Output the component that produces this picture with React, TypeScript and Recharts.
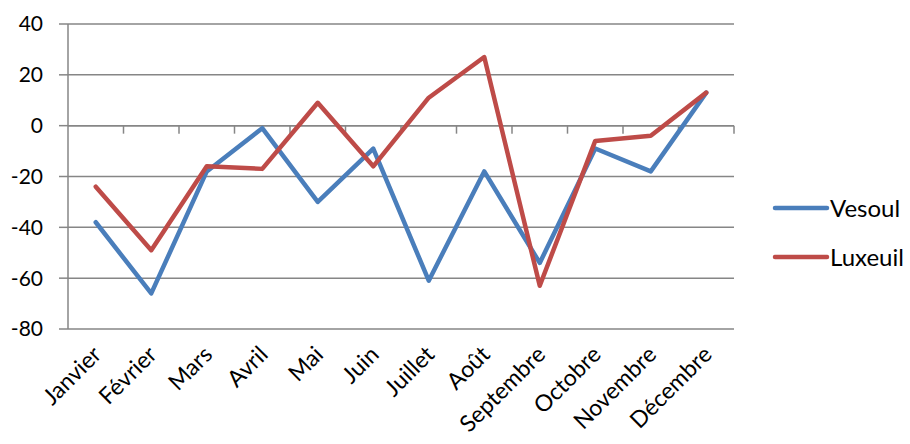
import React from 'react';
import {
  LineChart,
  Line,
  XAxis,
  YAxis,
  CartesianGrid,
  ReferenceLine,
  Legend,
} from 'recharts';

const months = [
  'Janvier', 'Février', 'Mars', 'Avril', 'Mai', 'Juin',
  'Juillet', 'Août', 'Septembre', 'Octobre', 'Novembre', 'Décembre',
];
const vesoul = [-38, -66, -18, -1, -30, -9, -61, -18, -54, -9, -18, 13];
const luxeuil = [-24, -49, -16, -17, 9, -16, 11, 27, -63, -6, -4, 13];
const yTicks = [-80, -60, -40, -20, 0, 20, 40];

const series = [
  { key: 'Vesoul', color: '#4a7ebb', values: vesoul },
  { key: 'Luxeuil', color: '#be4b48', values: luxeuil },
];

const data = months.map((m, i) => ({
  month: m,
  Vesoul: vesoul[i],
  Luxeuil: luxeuil[i],
}));

const FONT = 'Lato, "Open Sans", sans-serif';
const GRID = '#868686';

const MonthTick = (props: any) => {
  const { x, y, payload } = props;
  return (
    <g transform={`translate(${x + 7},${y + 19}) rotate(-45)`}>
      <text x={0} y={0} textAnchor="end" fontSize={23} fontFamily={FONT} fill="#000">
        {payload.value}
      </text>
    </g>
  );
};

// zero line with the small category ticks hanging under it
const ZeroAxis = (props: any) => {
  const { x1, y1, x2 } = props;
  if (x1 == null || y1 == null) return null;
  const step = (x2 - x1) / months.length;
  return (
    <g>
      <line x1={x1} y1={y1} x2={x2} y2={y1} stroke={GRID} strokeWidth={1.5} />
      {months.map((_m, i) => (
        <line
          key={i}
          x1={x1 + step * (i + 1)}
          x2={x1 + step * (i + 1)}
          y1={y1}
          y2={y1 + 8}
          stroke={GRID}
          strokeWidth={1.5}
        />
      ))}
    </g>
  );
};

const LegendBox = () => (
  <div style={{ fontFamily: FONT, fontSize: 24, color: '#000' }}>
    {series.map((s) => (
      <div key={s.key} style={{ display: 'flex', alignItems: 'center', height: 49 }}>
        <svg width={58} height={10}>
          <line x1={3} y1={5} x2={55} y2={5} stroke={s.color} strokeWidth={4.5} strokeLinecap="round" />
        </svg>
        <span>{s.key}</span>
      </div>
    ))}
  </div>
);

export default function App() {
  return (
    <div style={{ position: 'absolute', left: 0, top: 0 }}>
      <LineChart
        width={910}
        height={444}
        data={data}
        margin={{ top: 24, right: 38, left: 0, bottom: 0 }}
      >
        <CartesianGrid vertical={false} stroke={GRID} strokeWidth={1.5} />
        <XAxis
          dataKey="month"
          height={115}
          padding={{ left: 27.75, right: 27.75 }}
          axisLine={false}
          tickLine={false}
          interval={0}
          tick={<MonthTick />}
        />
        <YAxis
          width={68}
          domain={[-80, 40]}
          ticks={yTicks}
          interval={0}
          axisLine={{ stroke: GRID, strokeWidth: 1.5 }}
          tickLine={{ stroke: GRID, strokeWidth: 1.5 }}
          tickSize={9}
          tickMargin={16}
          tick={{ fontSize: 21, fontFamily: FONT, fill: '#000' }}
        />
        <ReferenceLine y={0} shape={<ZeroAxis />} />
        {series.map((s) => (
          <Line
            key={s.key}
            type="linear"
            dataKey={s.key}
            stroke={s.color}
            strokeWidth={4.5}
            strokeLinejoin="round"
            strokeLinecap="round"
            dot={false}
            isAnimationActive={false}
          />
        ))}
        <Legend
          layout="horizontal"
          verticalAlign="middle"
          align="right"
          content={<LegendBox />}
          wrapperStyle={{ left: 772, top: 183, width: 138 }}
        />
      </LineChart>
    </div>
  );
}
